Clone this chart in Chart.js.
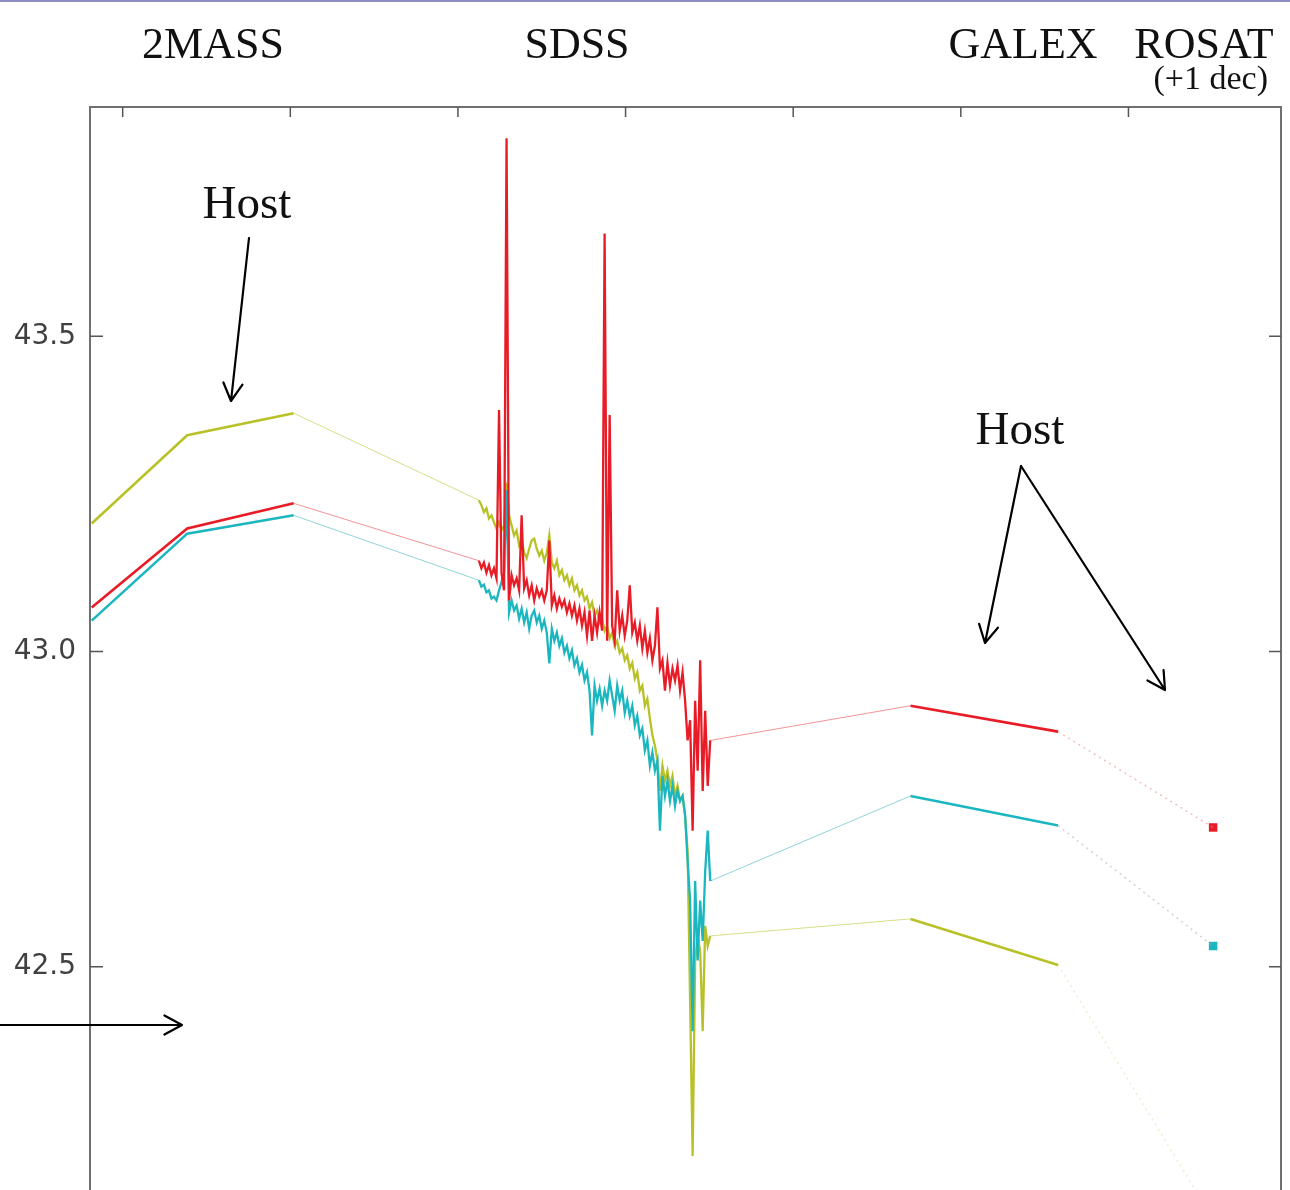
<!DOCTYPE html>
<html><head><meta charset="utf-8">
<script src="https://cdn.jsdelivr.net/npm/chart.js@4.4.1/dist/chart.umd.min.js"></script>
<style>
html,body{margin:0;padding:0;background:#fff;overflow:hidden;width:1290px;height:1190px}
#wrap{position:absolute;left:0;top:0;width:1290px;height:1190px}
#topline{position:absolute;left:0;top:0;width:1290px;height:2px;background:#8c8cc6}
</style></head><body>
<div id="wrap"><canvas id="c" width="1290" height="1190"></canvas></div>
<div id="topline"></div>
<script>
// ---- data (x = log nu, y = log nuLnu) ----
const yTickValues = [42.5, 43.0, 43.5];
const xTickValues = [14.2, 14.4, 14.6, 14.8, 15.0, 15.2, 15.4];
const surveyLabels = ['2MASS', 'SDSS', 'GALEX', 'ROSAT'];

const tmassLogNu  = [14.163, 14.277, 14.404];
const tmassRed    = [43.070, 43.195, 43.235];
const tmassCyan   = [43.049, 43.187, 43.216];
const tmassYellow = [43.203, 43.343, 43.378];

const galexLogNu  = [15.140, 15.316];
const galexRed    = [42.914, 42.873];
const galexCyan   = [42.771, 42.724];
const galexYellow = [42.576, 42.503];

const rosatLogNu  = [15.501];
const rosatRed    = [42.721];
const rosatCyan   = [42.533];
const rosatYellow = [42.100];

const sdssLogNu = [
 14.625,14.628,14.631,14.634,14.637,14.640,14.643,14.646,14.649,14.652,
 14.655,14.658,14.661,14.664,14.667,14.670,14.673,14.676,14.679,14.682,
 14.685,14.688,14.691,14.694,14.697,14.700,14.703,14.706,14.709,14.712,
 14.715,14.718,14.721,14.724,14.727,14.730,14.733,14.736,14.739,14.742,
 14.745,14.748,14.751,14.754,14.757,14.760,14.763,14.766,14.769,14.772,
 14.775,14.778,14.781,14.784,14.787,14.790,14.793,14.796,14.799,14.802,
 14.805,14.808,14.811,14.814,14.817,14.820,14.823,14.826,14.829,14.832,
 14.835,14.838,14.841,14.844,14.847,14.850,14.853,14.856,14.859,14.862,
 14.865,14.868,14.871,14.874,14.877,14.880,14.883,14.886,14.889,14.892,
 14.895,14.898,14.901];
const sdssRed = [
 43.144,43.132,43.141,43.125,43.137,43.121,43.132,43.116,43.383,43.125,
 43.097,43.814,43.081,43.121,43.105,43.116,43.097,43.216,43.100,43.113,
 43.089,43.105,43.081,43.100,43.087,43.097,43.081,43.097,43.176,43.073,
 43.089,43.068,43.084,43.071,43.081,43.062,43.076,43.057,43.073,43.049,
 43.068,43.041,43.062,43.025,43.065,43.017,43.057,43.030,43.062,43.033,
 43.663,43.017,43.375,43.041,43.017,43.097,43.033,43.057,43.025,43.049,
 43.105,43.030,43.046,43.017,43.041,43.005,43.033,42.998,43.021,42.986,
 43.009,43.070,42.973,42.986,42.938,42.982,42.946,42.973,42.954,42.978,
 42.938,42.967,42.922,42.859,42.891,42.716,42.922,42.811,42.986,42.779,
 42.906,42.787,42.859];
const sdssCyan = [
 43.113,43.103,43.106,43.094,43.097,43.084,43.087,43.081,43.097,43.110,
 43.125,43.256,43.062,43.081,43.065,43.073,43.052,43.068,43.046,43.062,
 43.036,43.057,43.065,43.046,43.057,43.036,43.049,43.030,42.981,43.036,
 43.017,43.030,43.009,43.021,42.998,43.009,42.989,43.002,42.978,42.989,
 42.967,42.979,42.954,42.967,42.938,42.867,42.946,42.922,42.941,42.914,
 42.938,42.922,42.954,42.930,42.906,42.946,42.922,42.938,42.903,42.922,
 42.898,42.914,42.883,42.898,42.867,42.878,42.843,42.859,42.819,42.840,
 42.811,42.827,42.716,42.803,42.771,42.795,42.763,42.787,42.755,42.779,
 42.763,42.771,42.740,42.668,42.605,42.398,42.636,42.510,42.605,42.541,
 42.652,42.716,42.636];
const sdssYellow = [
 43.240,43.232,43.221,43.227,43.211,43.216,43.205,43.195,43.205,43.192,
 43.200,43.268,43.216,43.200,43.184,43.192,43.168,43.176,43.157,43.148,
 43.163,43.176,43.179,43.163,43.152,43.160,43.144,43.157,43.184,43.141,
 43.132,43.144,43.121,43.129,43.113,43.121,43.105,43.116,43.097,43.105,
 43.089,43.097,43.081,43.087,43.068,43.078,43.057,43.065,43.046,43.052,
 43.033,43.041,43.021,43.030,43.009,43.017,42.998,43.005,42.986,42.994,
 42.973,42.982,42.957,42.967,42.938,42.946,42.914,42.925,42.894,42.867,
 42.851,42.827,42.779,42.819,42.795,42.811,42.787,42.803,42.771,42.787,
 42.763,42.771,42.740,42.684,42.446,42.200,42.510,42.549,42.525,42.398,
 42.565,42.533,42.549];

// ---- build datasets ----
function pts(xs, ys) { return xs.map((x, i) => ({ x: x, y: ys[i] })); }

function series(order, col, light, dotCol, tm, sd, ga, ro) {
  const n = sdssLogNu.length - 1;
  const base = { order: order, pointRadius: 0, tension: 0, fill: false };
  return [
    Object.assign({}, base, { data: pts(tmassLogNu, tm), borderColor: col, borderWidth: 2.6 }),
    Object.assign({}, base, { data: [{x: tmassLogNu[2], y: tm[2]}, {x: sdssLogNu[0], y: sd[0]}], borderColor: light, borderWidth: 1 }),
    Object.assign({}, base, { data: pts(sdssLogNu, sd), borderColor: col, borderWidth: 2.3 }),
    Object.assign({}, base, { data: [{x: sdssLogNu[n], y: sd[n]}, {x: galexLogNu[0], y: ga[0]}], borderColor: light, borderWidth: 1 }),
    Object.assign({}, base, { data: pts(galexLogNu, ga), borderColor: col, borderWidth: 2.6 }),
    Object.assign({}, base, { data: [{x: galexLogNu[1], y: ga[1]}, {x: rosatLogNu[0], y: ro[0]}], borderColor: dotCol, borderWidth: 1.5, borderDash: [2, 4], clip: false }),
    Object.assign({}, base, { data: pts(rosatLogNu, ro), showLine: false, pointRadius: 6, pointStyle: 'rect', pointBackgroundColor: col, pointBorderColor: col, borderColor: col, borderWidth: 0 })
  ];
}

const datasets = [].concat(
  series(1, 'rgb(232,28,38)', 'rgba(232,60,70,0.55)', 'rgba(225,140,140,0.55)', tmassRed, sdssRed, galexRed, rosatRed),
  series(2, 'rgb(28,182,192)', 'rgba(40,170,180,0.5)', 'rgba(150,170,180,0.5)', tmassCyan, sdssCyan, galexCyan, rosatCyan),
  series(3, 'rgb(184,194,40)', 'rgba(184,194,40,0.55)', 'rgba(215,215,150,0.45)', tmassYellow, sdssYellow, galexYellow, rosatYellow)
);

function arrow(ctx, x1, y1, x2, y2) {
  const ang = Math.atan2(y2 - y1, x2 - x1), L = 20, w = 0.5;
  ctx.beginPath();
  ctx.moveTo(x1, y1); ctx.lineTo(x2, y2);
  ctx.moveTo(x2 - L * Math.cos(ang - w), y2 - L * Math.sin(ang - w));
  ctx.lineTo(x2, y2);
  ctx.lineTo(x2 - L * Math.cos(ang + w), y2 - L * Math.sin(ang + w));
  ctx.stroke();
}

const annot = {
  id: 'annot',
  afterDraw(chart) {
    const { ctx, chartArea: a, scales: { x, y } } = chart;
    ctx.save();
    // frame
    ctx.strokeStyle = '#707070'; ctx.lineWidth = 2;
    ctx.beginPath();
    ctx.moveTo(a.left, chart.height); ctx.lineTo(a.left, a.top);
    ctx.lineTo(a.right, a.top); ctx.lineTo(a.right, chart.height);
    ctx.stroke();
    // inward ticks
    ctx.strokeStyle = '#555'; ctx.lineWidth = 1.5;
    xTickValues.forEach(v => {
      const px = x.getPixelForValue(v);
      ctx.beginPath(); ctx.moveTo(px, a.top); ctx.lineTo(px, a.top + 10); ctx.stroke();
    });
    yTickValues.forEach(v => {
      const py = y.getPixelForValue(v);
      ctx.beginPath();
      ctx.moveTo(a.left, py); ctx.lineTo(a.left + 13, py);
      ctx.moveTo(a.right - 12, py); ctx.lineTo(a.right, py);
      ctx.stroke();
    });
    // survey labels
    ctx.fillStyle = '#111';
    ctx.textBaseline = 'alphabetic';
    ctx.font = '44px "Liberation Serif"';
    ctx.textAlign = 'center';
    const lx = [213, 577, 1023, 1204];
    surveyLabels.forEach((t, i) => ctx.fillText(t, lx[i], 58));
    ctx.font = '34px "Liberation Serif"';
    ctx.textAlign = 'right';
    ctx.fillText('(+1 dec)', 1268, 89);
    // Host labels
    ctx.font = '47px "Liberation Serif"';
    ctx.textAlign = 'center';
    ctx.fillText('Host', 247, 218);
    ctx.fillText('Host', 1020, 444);
    // arrows
    ctx.strokeStyle = '#000'; ctx.lineWidth = 2.2; ctx.lineCap = 'round'; ctx.lineJoin = 'round';
    arrow(ctx, 249, 238, 231, 401);
    arrow(ctx, 1021, 466, 985, 643);
    arrow(ctx, 1021, 466, 1165, 690);
    arrow(ctx, 0, 1025, 182, 1025);
    ctx.restore();
  }
};

new Chart(document.getElementById('c'), {
  type: 'line',
  data: { datasets: datasets },
  options: {
    responsive: false,
    animation: false,
    events: [],
    layout: { padding: { top: 107, right: 9, bottom: 0, left: 0 } },
    plugins: { legend: { display: false }, tooltip: { enabled: false } },
    scales: {
      x: { type: 'linear', min: 14.161, max: 15.582, display: false },
      y: {
        type: 'linear', min: 42.1556, max: 43.8635,
        grid: { display: false, drawTicks: false },
        border: { display: false },
        afterFit: s => { s.width = 90; s.paddingTop = 0; s.paddingBottom = 0; },
        afterBuildTicks: s => { s.ticks = yTickValues.map(v => ({ value: v })); },
        ticks: {
          padding: 14,
          color: '#404040',
          font: { family: '"DejaVu Sans"', size: 28 },
          callback: v => Number(v).toFixed(1)
        }
      }
    }
  },
  plugins: [annot]
});
</script>
</body></html>
